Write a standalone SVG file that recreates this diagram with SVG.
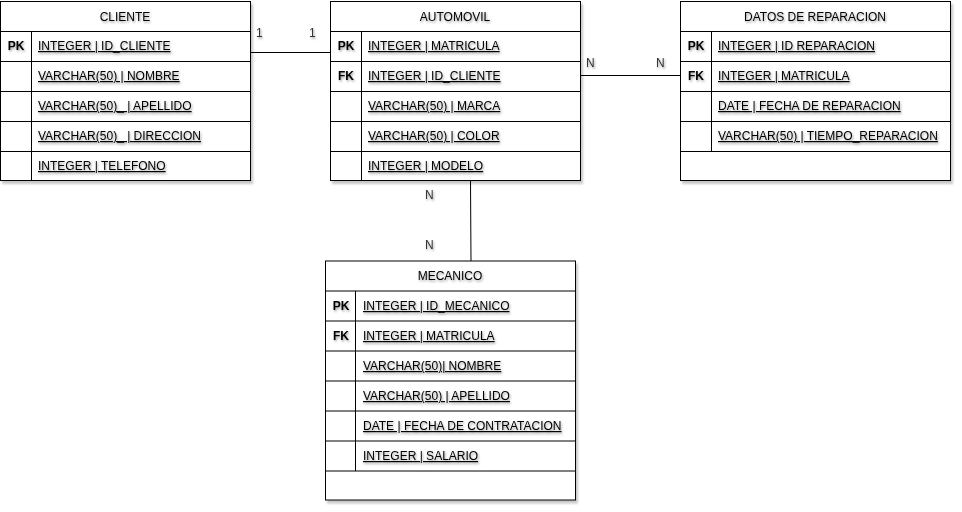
<svg xmlns="http://www.w3.org/2000/svg" width="962" height="512" viewBox="0 0 962 512">
<defs>
<filter id="sh" x="-5%" y="-5%" width="115%" height="115%">
<feDropShadow dx="2" dy="3" stdDeviation="1.2" flood-color="#000" flood-opacity="0.22"/>
</filter>
<filter id="tsh" x="-5%" y="-30%" width="115%" height="170%">
<feDropShadow dx="1" dy="1.5" stdDeviation="0.8" flood-color="#000" flood-opacity="0.4"/>
</filter>
</defs>
<style>
.box{fill:#fff;stroke:#000;stroke-width:1}
.ln{stroke:#000;stroke-width:1;fill:none}
text{font-family:"Liberation Sans",Arial,sans-serif;font-size:12px;fill:#000}
.hd{text-anchor:middle}
.k{font-weight:bold;text-anchor:middle}
.f{text-decoration:underline}
.lab{fill:#333}
.t{filter:url(#tsh)}
</style>
<rect width="962" height="512" fill="#fff"/>
<g id="connectors">
<line class="ln" x1="250" y1="52.5" x2="330" y2="52.5"/>
<line class="ln" x1="580" y1="75.5" x2="680" y2="75.5"/>
<line class="ln" x1="470.5" y1="180" x2="471" y2="261"/>
<g class="t">
<text class="lab" x="256" y="37">1</text>
<text class="lab" x="309" y="37">1</text>
<text class="lab" x="586" y="67">N</text>
<text class="lab" x="656" y="67">N</text>
<text class="lab" x="425" y="199">N</text>
<text class="lab" x="425" y="249">N</text>
</g>
</g>
<g id="cliente">
<g filter="url(#sh)"><rect class="box" x="0.5" y="1.5" width="250" height="179"/></g>
<path class="ln" d="M0.5 31.5H250.5M0.5 61.5H250.5M0.5 91.5H250.5M0.5 121.5H250.5M0.5 151.5H250.5M31.5 31.5V180.5"/>
<g class="t">
<text class="hd" x="125" y="21">CLIENTE</text>
<text class="k" x="16" y="50">PK</text>
<text class="f" x="38" y="50">INTEGER | ID_CLIENTE</text>
<text class="f" x="38" y="80">VARCHAR(50) | NOMBRE</text>
<text class="f" x="38" y="110">VARCHAR(50)_ | APELLIDO</text>
<text class="f" x="38" y="140">VARCHAR(50)_ | DIRECCION</text>
<text class="f" x="38" y="170">INTEGER | TELEFONO</text>
</g>
</g>
<g id="automovil">
<g filter="url(#sh)"><rect class="box" x="330.5" y="1.5" width="250" height="179"/></g>
<path class="ln" d="M330.5 31.5H580.5M330.5 61.5H580.5M330.5 91.5H580.5M330.5 121.5H580.5M330.5 151.5H580.5M361.5 31.5V180.5"/>
<g class="t">
<text class="hd" x="455" y="21">AUTOMOVIL</text>
<text class="k" x="346" y="50">PK</text>
<text class="k" x="346" y="80">FK</text>
<text class="f" x="368" y="50">INTEGER | MATRICULA</text>
<text class="f" x="368" y="80">INTEGER | ID_CLIENTE</text>
<text class="f" x="368" y="110">VARCHAR(50) | MARCA </text>
<text class="f" x="368" y="140">VARCHAR(50) | COLOR</text>
<text class="f" x="368" y="170">INTEGER | MODELO</text>
</g>
</g>
<g id="datos-de-reparacion">
<g filter="url(#sh)"><rect class="box" x="680.5" y="1.5" width="270" height="179"/></g>
<path class="ln" d="M680.5 31.5H950.5M680.5 61.5H950.5M680.5 91.5H950.5M680.5 121.5H950.5M680.5 151.5H950.5M711.5 31.5V151.5"/>
<g class="t">
<text class="hd" x="815" y="21">DATOS DE REPARACION</text>
<text class="k" x="696" y="50">PK</text>
<text class="k" x="696" y="80">FK</text>
<text class="f" x="718" y="50">INTEGER | ID REPARACION</text>
<text class="f" x="718" y="80">INTEGER | MATRICULA</text>
<text class="f" x="718" y="110">DATE | FECHA DE REPARACION</text>
<text class="f" x="718" y="140">VARCHAR(50) | TIEMPO_REPARACION</text>
</g>
</g>
<g id="mecanico">
<g filter="url(#sh)"><rect class="box" x="325.5" y="261" width="250" height="239"/></g>
<path class="ln" d="M325.5 291H575.5M325.5 321H575.5M325.5 351H575.5M325.5 381H575.5M325.5 411H575.5M325.5 441H575.5M325.5 471H575.5M355.5 291V471"/>
<g class="t">
<text class="hd" x="450" y="280">MECANICO</text>
<text class="k" x="341" y="310">PK</text>
<text class="k" x="341" y="340">FK</text>
<text class="f" x="363" y="310">INTEGER | ID_MECANICO</text>
<text class="f" x="363" y="340">INTEGER | MATRICULA</text>
<text class="f" x="363" y="370">VARCHAR(50)| NOMBRE</text>
<text class="f" x="363" y="400">VARCHAR(50) | APELLIDO</text>
<text class="f" x="363" y="430">DATE | FECHA DE CONTRATACION</text>
<text class="f" x="363" y="460">INTEGER | SALARIO</text>
</g>
</g>
</svg>
